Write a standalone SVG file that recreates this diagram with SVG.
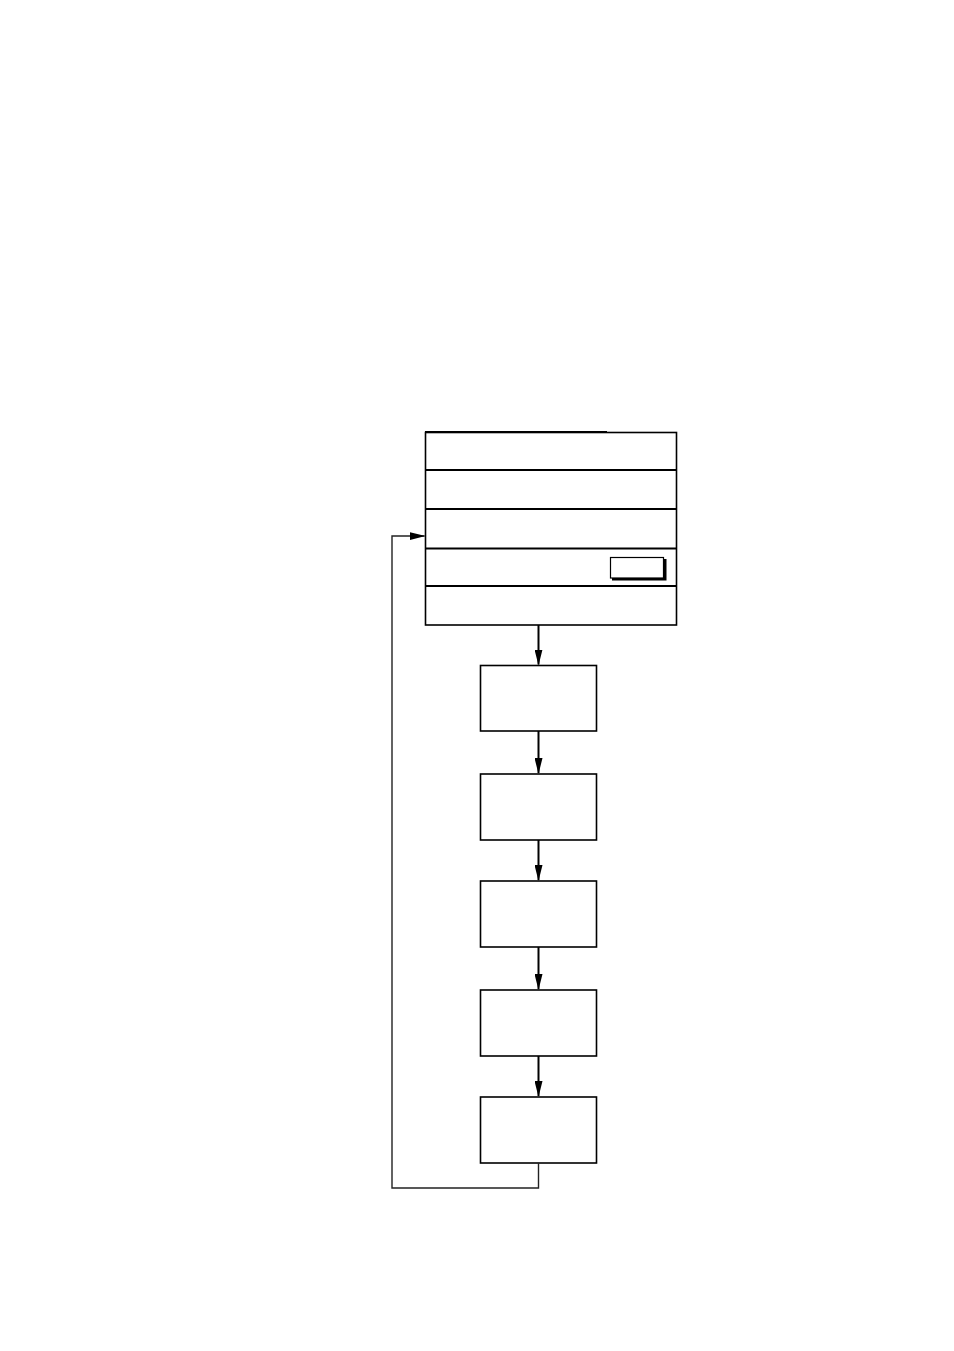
<svg xmlns="http://www.w3.org/2000/svg" width="954" height="1351" viewBox="0 0 954 1351">
<style>
.box{fill:#fff;stroke:#000;stroke-width:1.6}
.div{stroke:#000;stroke-width:1.8}
.con{fill:none;stroke:#000;stroke-width:2}
.loop{fill:none;stroke:#222;stroke-width:1.4}
</style>
<defs>
<marker id="ah" markerWidth="16" markerHeight="8" refX="15" refY="4" orient="auto" markerUnits="userSpaceOnUse">
<path d="M0,0 L16,4 L0,8 z" fill="#000"/>
</marker>
</defs>
<rect width="954" height="1351" fill="#fff"/>
<g id="menu">
<rect class="box" x="425.5" y="432.5" width="251" height="192.5"/>
<line x1="425" y1="432" x2="607" y2="432" stroke="#000" stroke-width="2"/>
<line class="div" x1="425.5" y1="470" x2="676.5" y2="470"/>
<line class="div" x1="425.5" y1="509" x2="676.5" y2="509"/>
<line class="div" x1="425.5" y1="548.5" x2="676.5" y2="548.5"/>
<line class="div" x1="425.5" y1="586" x2="676.5" y2="586"/>
<rect x="612" y="559" width="54.5" height="21.5" fill="#000"/>
<rect x="610.5" y="557.5" width="53" height="20.5" fill="#fff" stroke="#000" stroke-width="1.2"/>
</g>
<g id="n1"><rect class="box" x="480.5" y="665.5" width="116" height="65.5"/></g>
<g id="n2"><rect class="box" x="480.5" y="774" width="116" height="66"/></g>
<g id="n3"><rect class="box" x="480.5" y="881" width="116" height="66"/></g>
<g id="n4"><rect class="box" x="480.5" y="990" width="116" height="66"/></g>
<g id="n5"><rect class="box" x="480.5" y="1097" width="116" height="66"/></g>
<g id="connectors">
<line class="con" x1="538.5" y1="625" x2="538.5" y2="664.5" marker-end="url(#ah)"/>
<line class="con" x1="538.5" y1="731" x2="538.5" y2="773" marker-end="url(#ah)"/>
<line class="con" x1="538.5" y1="840" x2="538.5" y2="880" marker-end="url(#ah)"/>
<line class="con" x1="538.5" y1="947" x2="538.5" y2="989" marker-end="url(#ah)"/>
<line class="con" x1="538.5" y1="1056" x2="538.5" y2="1096" marker-end="url(#ah)"/>
<polyline class="loop" points="538.5,1163 538.5,1188 392,1188 392,536 424.5,536" marker-end="url(#ah)"/>
</g>
</svg>
